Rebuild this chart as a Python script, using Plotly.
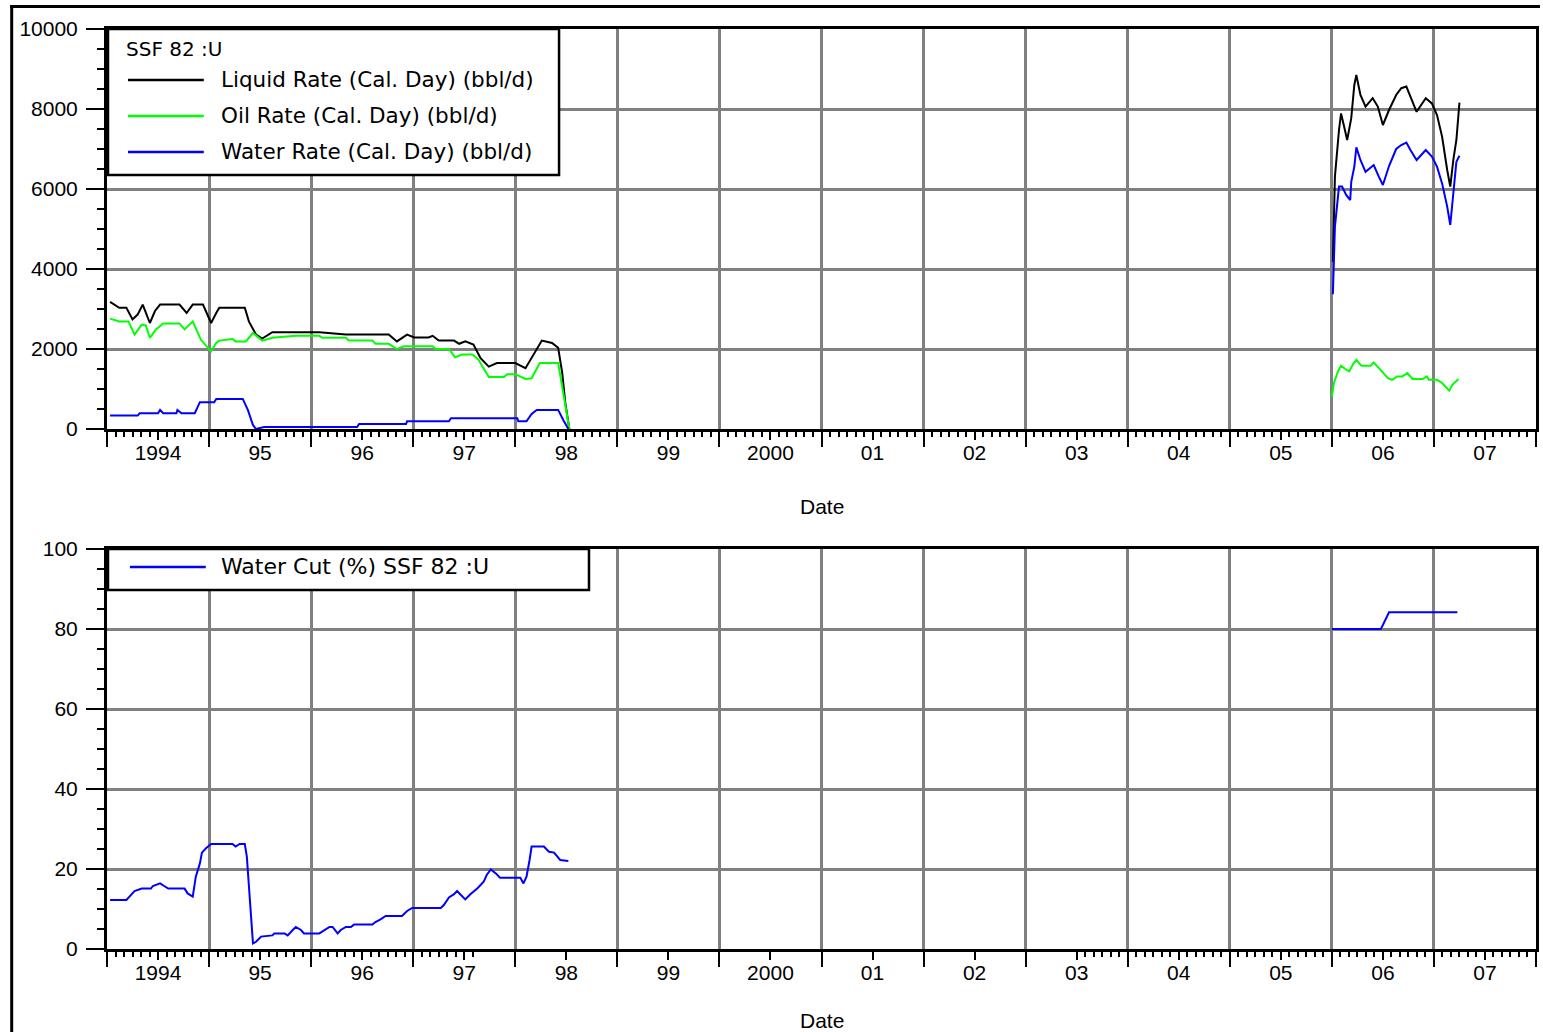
import plotly.graph_objects as go

# ---------------- SSF 82 :U production history ----------------
# Period 1 (1994 - mid 1998), decimal years
liq_t1 = [1994.03, 1994.12, 1994.19, 1994.25, 1994.30, 1994.35, 1994.42, 1994.47, 1994.52,
          1994.71, 1994.78, 1994.84, 1994.94, 1995.02, 1995.07, 1995.10, 1995.35, 1995.39,
          1995.46, 1995.52, 1995.62, 1996.08, 1996.34, 1996.76, 1996.84, 1996.94, 1997.01,
          1997.15, 1997.19, 1997.25, 1997.40, 1997.45, 1997.51, 1997.59, 1997.66, 1997.74,
          1997.82, 1998.00, 1998.10, 1998.18, 1998.26, 1998.36, 1998.42, 1998.46, 1998.49,
          1998.53]
liq_v1 = [3180, 3030, 3030, 2740, 2860, 3110, 2650, 2950, 3110,
          3110, 2900, 3110, 3110, 2650, 2900, 3030, 3030, 2690,
          2360, 2260, 2420, 2420, 2360, 2360, 2190, 2360, 2290,
          2290, 2330, 2210, 2210, 2130, 2190, 2110, 1770, 1560,
          1650, 1650, 1520, 1860, 2210, 2150, 2030, 1400, 650,
          0]

oil_t1 = [1994.03, 1994.12, 1994.21, 1994.27, 1994.34, 1994.38, 1994.42, 1994.48, 1994.55,
          1994.71, 1994.76, 1994.84, 1994.92, 1995.02, 1995.07, 1995.10, 1995.23, 1995.26,
          1995.36, 1995.43, 1995.52, 1995.62, 1995.85, 1996.08, 1996.11, 1996.34, 1996.37,
          1996.60, 1996.63, 1996.76, 1996.84, 1996.91, 1997.19, 1997.22, 1997.35, 1997.41,
          1997.48, 1997.58, 1997.64, 1997.74, 1997.89, 1997.92, 1998.00, 1998.10, 1998.16,
          1998.24, 1998.42, 1998.46, 1998.49, 1998.53]
oil_v1 = [2760, 2690, 2690, 2360, 2610, 2590, 2280, 2490, 2640,
          2640, 2490, 2690, 2230, 1940, 2150, 2210, 2250, 2190,
          2190, 2400, 2210, 2280, 2330, 2330, 2280, 2280, 2210,
          2210, 2130, 2130, 2000, 2070, 2070, 2000, 2000, 1790,
          1860, 1860, 1730, 1300, 1300, 1370, 1370, 1250, 1270,
          1650, 1650, 1060, 640, 0]

wat_t1 = [1994.03, 1994.30, 1994.32, 1994.50, 1994.52, 1994.55, 1994.68, 1994.69, 1994.73,
          1994.86, 1994.91, 1995.05, 1995.07, 1995.33, 1995.38, 1995.43, 1995.46, 1995.54,
          1996.45, 1996.47, 1996.93, 1996.94, 1997.35, 1997.37, 1998.02, 1998.03, 1998.11,
          1998.16, 1998.21, 1998.42, 1998.47, 1998.52]
wat_v1 = [335, 335, 393, 393, 477, 393, 393, 477, 393,
          393, 670, 670, 753, 753, 477, 100, 0, 50,
          50, 126, 126, 192, 192, 268, 268, 192, 192,
          377, 477, 477, 226, 0]

# Period 2 (2006 - early 2007)
liq_t2 = [2006.01, 2006.03, 2006.07, 2006.09, 2006.12, 2006.15, 2006.19, 2006.22, 2006.24,
          2006.28, 2006.33, 2006.40, 2006.45, 2006.50, 2006.56, 2006.63, 2006.68, 2006.73,
          2006.77, 2006.83, 2006.92, 2006.98, 2007.03, 2007.08, 2007.13, 2007.16, 2007.19,
          2007.22, 2007.25]
liq_v2 = [4180, 6310, 7475, 7890, 7560, 7225, 7770, 8600, 8850,
          8350, 8060, 8270, 8060, 7600, 7975, 8350, 8520, 8560,
          8310, 7930, 8270, 8140, 7850, 7310, 6475, 6060, 6730,
          7225, 8160]

oil_t2 = [2006.00, 2006.02, 2006.06, 2006.09, 2006.13, 2006.17, 2006.21, 2006.24, 2006.29,
          2006.38, 2006.41, 2006.46, 2006.51, 2006.55, 2006.59, 2006.64, 2006.69, 2006.74,
          2006.79, 2006.89, 2006.93, 2006.95, 2007.03, 2007.08, 2007.15, 2007.18, 2007.24]
oil_v2 = [812, 1150, 1440, 1580, 1500, 1440, 1630, 1730, 1580,
          1580, 1665, 1520, 1400, 1270, 1230, 1315, 1315, 1400,
          1250, 1250, 1315, 1230, 1230, 1150, 960, 1105, 1250]

wat_t2 = [2006.01, 2006.03, 2006.07, 2006.10, 2006.14, 2006.18, 2006.19, 2006.22, 2006.24,
          2006.28, 2006.33, 2006.41, 2006.46, 2006.50, 2006.56, 2006.63, 2006.68, 2006.73,
          2006.77, 2006.83, 2006.92, 2006.98, 2007.03, 2007.08, 2007.13, 2007.16, 2007.19,
          2007.22, 2007.25]
wat_v2 = [3370, 5060, 6060, 6060, 5850, 5725, 6180, 6560, 7040,
          6725, 6430, 6600, 6310, 6100, 6575, 7000, 7100, 7160,
          6975, 6725, 6975, 6810, 6560, 6140, 5560, 5100, 5890,
          6680, 6830]

# Water cut (%)
wc_t1 = [1994.03, 1994.19, 1994.22, 1994.27, 1994.34, 1994.43, 1994.45, 1994.52, 1994.56,
         1994.60, 1994.76, 1994.79, 1994.84, 1994.87, 1994.91, 1994.93, 1994.97, 1995.02,
         1995.23, 1995.26, 1995.30, 1995.35, 1995.37, 1995.39, 1995.41, 1995.43, 1995.46,
         1995.51, 1995.62, 1995.64, 1995.74, 1995.77, 1995.82, 1995.85, 1995.90, 1995.93,
         1996.08, 1996.13, 1996.18, 1996.21, 1996.26, 1996.29, 1996.34, 1996.39, 1996.42,
         1996.60, 1996.63, 1996.68, 1996.73, 1996.89, 1996.94, 1996.99, 1997.27, 1997.30,
         1997.35, 1997.40, 1997.43, 1997.46, 1997.51, 1997.56, 1997.63, 1997.69, 1997.72,
         1997.76, 1997.81, 1997.85, 1998.05, 1998.08, 1998.11, 1998.14, 1998.16, 1998.28,
         1998.33, 1998.38, 1998.41, 1998.44, 1998.52]
wc_v1 = [12.25, 12.25, 13.1, 14.5, 15.1, 15.1, 15.75, 16.4, 15.75,
         15.1, 15.1, 13.9, 13.1, 18.1, 21.4, 24.1, 25.2, 26.25,
         26.25, 25.6, 26.25, 26.25, 23.1, 15.6, 8.1, 1.4, 1.8,
         3.1, 3.4, 3.9, 3.9, 3.4, 4.75, 5.5, 4.75, 3.9,
         3.9, 4.75, 5.5, 5.5, 3.9, 4.75, 5.5, 5.5, 6.1,
         6.1, 6.75, 7.4, 8.25, 8.25, 9.5, 10.25, 10.25, 11.0,
         12.9, 13.7, 14.5, 13.7, 12.4, 13.7, 15.2, 16.8, 18.5,
         19.9, 18.9, 17.8, 17.8, 16.4, 18.1, 22.25, 25.6, 25.6,
         24.3, 24.1, 23.25, 22.25, 22.0]
wc_t2 = [2006.00, 2006.48, 2006.50, 2006.53, 2006.56, 2007.23]
wc_v2 = [80.0, 80.0, 81.0, 82.5, 84.2, 84.2]

rate_names = ["Liquid Rate (Cal. Day) (bbl/d)", "Oil Rate (Cal. Day) (bbl/d)",
              "Water Rate (Cal. Day) (bbl/d)"]
rate_colors = ["#000000", "#00ff00", "#0000ff"]
wc_name = "Water Cut (%) SSF 82 :U"
well_name = "SSF 82 :U"

label_pos = [y + 0.5 for y in range(1994, 2008)]
label_text = ["1994", "95", "96", "97", "98", "99", "2000", "01", "02", "03", "04", "05", "06", "07"]

# monthly minor ticks (the lower panel only carries them over part of the span)
months_all = [1994 + k / 12 for k in range(0, 169)]
months_low = [1994 + k / 12 for k in range(0, 44)] + [1994 + k / 12 for k in range(114, 169)]

FONT = "Liberation Sans, Arial, sans-serif"
LEG_FONT = "DejaVu Sans, Verdana, sans-serif"
GRID = "#808080"
W, H = 1543, 1032
ML, MR, MT, MB = 107, 4, 29, 83
PH = H - MT - MB
top_dom = [1 - 400 / PH, 1]
bot_dom = [0, 400 / PH]


def joined(t1, v1, t2, v2):
    return t1 + [None] + t2, v1 + [None] + v2


fig = go.Figure()
series = [(liq_t1, liq_v1, liq_t2, liq_v2), (oil_t1, oil_v1, oil_t2, oil_v2),
          (wat_t1, wat_v1, wat_t2, wat_v2)]
for (t1, v1, t2, v2), name, col in zip(series, rate_names, rate_colors):
    xs, ys = joined(t1, v1, t2, v2)
    fig.add_trace(go.Scatter(x=xs, y=ys, mode="lines", name=name, connectgaps=False,
                             line=dict(color=col, width=2), xaxis="x", yaxis="y",
                             showlegend=False))

xs, ys = joined(wc_t1, wc_v1, wc_t2, wc_v2)
fig.add_trace(go.Scatter(x=xs, y=ys, mode="lines", name=wc_name, connectgaps=False,
                         line=dict(color="#0000ff", width=2), xaxis="x2", yaxis="y2",
                         showlegend=False))

# empty traces so the label axes (year captions) are laid out
for xa, ya in [("x3", "y"), ("x4", "y2")]:
    fig.add_trace(go.Scatter(x=[], y=[], mode="lines", xaxis=xa, yaxis=ya,
                             showlegend=False, hoverinfo="skip"))


def base_x(anchor, minor_vals):
    return dict(domain=[0, 1], anchor=anchor, range=[1994, 2008], tickmode="linear",
                tick0=1994, dtick=1, ticks="outside", ticklen=15, tickwidth=2,
                tickcolor="black", showticklabels=False, showgrid=True, gridcolor=GRID,
                gridwidth=3, showline=True, linecolor="black", linewidth=3, mirror=True,
                zeroline=False,
                minor=dict(tickmode="array", tickvals=minor_vals, ticks="outside",
                           ticklen=5, tickwidth=2, tickcolor="black", showgrid=False))


def label_x(over, anchor):
    return dict(overlaying=over, anchor=anchor, range=[1994, 2008], tickmode="array",
                tickvals=label_pos, ticktext=label_text, ticks="outside", ticklen=10,
                tickwidth=2, tickcolor="black", showgrid=False, showline=False,
                zeroline=False, ticklabelstandoff=-5,
                tickfont=dict(family=FONT, size=21, color="black"))


def base_y(dom, anchor, top, step, minor_step):
    return dict(domain=dom, anchor=anchor, range=[0, top], tickmode="linear", tick0=0,
                dtick=step, tickformat="d", ticks="outside", ticklen=18, tickwidth=2,
                tickcolor="black", showgrid=True, gridcolor=GRID, gridwidth=3,
                showline=True, linecolor="black", linewidth=3, mirror=True, zeroline=False,
                ticklabelstandoff=4, tickfont=dict(family=FONT, size=21, color="black"),
                minor=dict(tickmode="linear", tick0=0, dtick=minor_step, ticks="outside",
                           ticklen=7, tickwidth=2, tickcolor="black", showgrid=False))


fig.update_layout(
    width=W, height=H,
    margin=dict(l=ML, r=MR, t=MT, b=MB),
    paper_bgcolor="white", plot_bgcolor="white",
    font=dict(family=FONT, size=21, color="black"),
    xaxis=base_x("y", months_all),
    xaxis2=base_x("y2", months_low),
    xaxis3=label_x("x", "y"),
    xaxis4=label_x("x2", "y2"),
    yaxis=base_y(top_dom, "x", 10000, 2000, 500),
    yaxis2=base_y(bot_dom, "x2", 100, 20, 5),
)


def px_x(px):
    return (px - ML) / 1432


def px_y(py):
    return (949 - py) / PH


shapes = []
annots = []

# outer frame
shapes.append(dict(type="line", xref="paper", yref="paper", x0=px_x(11.5), x1=px_x(11.5),
                   y0=px_y(5), y1=px_y(1032), line=dict(color="black", width=3)))
shapes.append(dict(type="line", xref="paper", yref="paper", x0=px_x(10), x1=px_x(1543),
                   y0=px_y(6.5), y1=px_y(6.5), line=dict(color="black", width=3)))

# upper legend box
shapes.append(dict(type="rect", xref="paper", yref="paper", x0=px_x(108), x1=px_x(560),
                   y0=px_y(175), y1=px_y(29), fillcolor="white",
                   line=dict(color="black", width=2.5), layer="above"))
annots.append(dict(xref="paper", yref="paper", x=px_x(124), y=px_y(49), text=well_name,
                   showarrow=False, xanchor="left", yanchor="middle",
                   font=dict(family=LEG_FONT, size=20, color="black")))
for name, col, py in zip(rate_names, rate_colors, [80, 116, 152]):
    shapes.append(dict(type="line", xref="paper", yref="paper", x0=px_x(128), x1=px_x(204),
                       y0=px_y(py), y1=px_y(py), line=dict(color=col, width=2.5),
                       layer="above"))
    annots.append(dict(xref="paper", yref="paper", x=px_x(219), y=px_y(py), text=name,
                       showarrow=False, xanchor="left", yanchor="middle",
                       font=dict(family=LEG_FONT, size=21.5, color="black")))

# lower legend box
shapes.append(dict(type="rect", xref="paper", yref="paper", x0=px_x(108), x1=px_x(590),
                   y0=px_y(590), y1=px_y(549), fillcolor="white",
                   line=dict(color="black", width=2.5), layer="above"))
shapes.append(dict(type="line", xref="paper", yref="paper", x0=px_x(130), x1=px_x(206),
                   y0=px_y(567), y1=px_y(567), line=dict(color="#0000ff", width=2.5),
                   layer="above"))
annots.append(dict(xref="paper", yref="paper", x=px_x(219), y=px_y(566), text=wc_name,
                   showarrow=False, xanchor="left", yanchor="middle",
                   font=dict(family=LEG_FONT, size=22, color="black")))

# axis titles
for py in [506, 1020]:
    annots.append(dict(xref="paper", yref="paper", x=0.5, y=px_y(py), text="Date",
                       showarrow=False, xanchor="center", yanchor="middle",
                       font=dict(family=FONT, size=21, color="black")))

fig.update_layout(shapes=shapes, annotations=annots)
fig.write_html("out.html")
